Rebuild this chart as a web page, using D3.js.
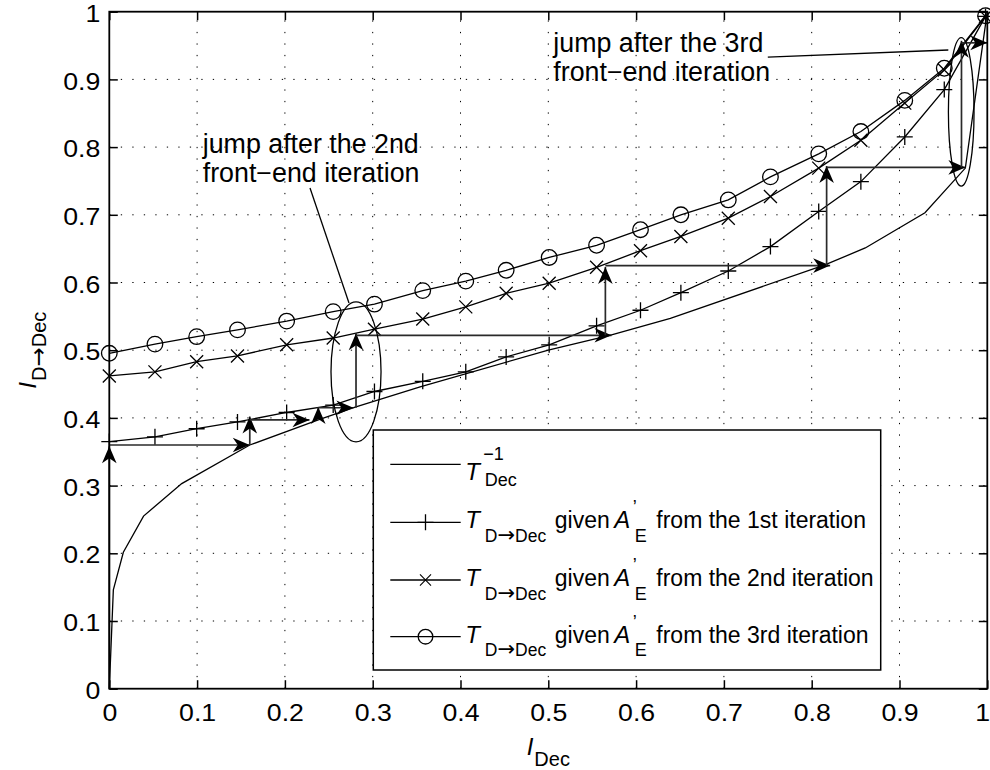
<!DOCTYPE html>
<html><head><meta charset="utf-8">
<script src="https://cdn.jsdelivr.net/npm/d3@7"></script>
<style>
body{margin:0;background:#fff;}
svg{display:block;background:#fff;}
text{font-family:"Liberation Sans",Arial,Helvetica,sans-serif;fill:#000;}
</style></head><body>
<svg id="chart" width="990" height="770"></svg>
<script>
// ---------- data ----------
const xTicks = [0,0.1,0.2,0.3,0.4,0.5,0.6,0.7,0.8,0.9,1];
const xTickLabels = ["0","0.1","0.2","0.3","0.4","0.5","0.6","0.7","0.8","0.9","1"];
const yTicks = [0,0.1,0.2,0.3,0.4,0.5,0.6,0.7,0.8,0.9,1];
const yTickLabels = ["0","0.1","0.2","0.3","0.4","0.5","0.6","0.7","0.8","0.9","1"];

// T_Dec^-1 curve
const invX = [0,0.0046,0.016,0.039,0.0825,0.16,0.238,0.28,0.354,0.5,0.57,0.639,0.815,0.861,0.929,0.975,1.0];
const invY = [0,0.146,0.2015,0.255,0.303,0.36,0.397,0.416,0.446,0.5,0.522,0.547,0.626,0.651,0.703,0.769,1.0];

// T_D->Dec curves (shared abscissae)
const iterX = [0,0.052,0.0995,0.146,0.202,0.255,0.302,0.357,0.406,0.452,0.501,0.555,0.605,0.651,0.705,0.753,0.808,0.856,0.906,0.951,0.998];
const iter1 = [0.365,0.372,0.384,0.394,0.408,0.419,0.439,0.454,0.468,0.490,0.508,0.536,0.559,0.585,0.617,0.653,0.705,0.749,0.815,0.885,0.993];
const iter2 = [0.462,0.468,0.483,0.4915,0.508,0.518,0.531,0.546,0.564,0.584,0.599,0.6225,0.647,0.668,0.695,0.727,0.769,0.810,0.865,0.914,0.993];
const iter3 = [0.4954,0.509,0.520,0.530,0.543,0.557,0.568,0.588,0.602,0.618,0.637,0.655,0.678,0.700,0.722,0.756,0.790,0.823,0.869,0.9165,0.994];

// staircase trajectory (arrows)
const stairFrom = [[0,0],[0,0.36],[0.16,0.36],[0.16,0.397],[0.238,0.397],[0.238,0.415],[0.281,0.415],[0.281,0.522],[0.565,0.522],[0.565,0.625],[0.817,0.625],[0.817,0.77],[0.9706,0.77],[0.9706,0.954]];
const stairTo   = [[0,0.358],[0.16,0.36],[0.16,0.402],[0.228,0.397],[0.238,0.416],[0.278,0.415],[0.281,0.525],[0.572,0.522],[0.565,0.623],[0.821,0.625],[0.817,0.772],[0.975,0.77],[0.9706,0.957],[1.0,0.954]];

// annotations
const annCenter = [[0.281,0.468],[0.9703,0.852]];
const annRadius = [[0.0285,0.1034],[0.0146,0.1096]];
const annLeaderFrom = [[0.2286,0.7396],[0.750,0.933]];
const annLeaderTo = [[0.273,0.5697],[0.9556,0.9434]];
const annTextPos = [[0.1064,0.791],[0.5057,0.94]];
const annLines = [["jump after the 2nd","front\u2212end iteration"],["jump after the 3rd","front\u2212end iteration"]];

const legendOrdinals = ["1st","2nd","3rd"];

// ---------- drawing ----------
const svg = d3.select("#chart");
const x = d3.scaleLinear().domain([0,1]).range([109.3,987.3]);
const y = d3.scaleLinear().domain([0,1]).range([688.7,11.7]);
const FONT = '"Liberation Sans",Arial,Helvetica,sans-serif';
const ARROWFONT = '"DejaVu Sans",sans-serif';

// grid
const grid = svg.append("g").attr("stroke","#000").attr("stroke-width",1).attr("stroke-dasharray","1.3,10.2");
xTicks.filter(t=>t>0&&t<1).forEach(t=>{
  grid.append("line").attr("x1",x(t)).attr("x2",x(t)).attr("y1",y(0)).attr("y2",y(1));
});
yTicks.filter(t=>t>0&&t<1).forEach(t=>{
  grid.append("line").attr("y1",y(t)).attr("y2",y(t)).attr("x1",x(0)).attr("x2",x(1));
});

// curves
const line = d3.line().x(d=>x(d[0])).y(d=>y(d[1]));
const curveG = svg.append("g").attr("fill","none").attr("stroke","#000").attr("stroke-width",1.3);
curveG.append("path").attr("d",line(invX.map((v,i)=>[v,invY[i]])));
[iter1,iter2,iter3].forEach(s=>{
  curveG.append("path").attr("d",line(iterX.map((v,i)=>[v,s[i]])));
});

// markers
const plusPath = "M-8,0H8M0,-8V8";
const crossPath = "M-6.5,-6.5L6.5,6.5M-6.5,6.5L6.5,-6.5";
const markG = svg.append("g").attr("fill","none").attr("stroke","#000").attr("stroke-width",1.3);
iterX.forEach((v,i)=>{
  markG.append("path").attr("d",plusPath).attr("transform",`translate(${x(v)},${y(iter1[i])})`);
  markG.append("path").attr("d",crossPath).attr("transform",`translate(${x(v)},${y(iter2[i])})`);
  markG.append("circle").attr("cx",x(v)).attr("cy",y(iter3[i])).attr("r",7.8);
});

// staircase arrows
const arrG = svg.append("g");
const headPath = "M0,0L-17,-7.3L-12,0L-17,7.3Z";
stairFrom.forEach((p,i)=>{
  const q = stairTo[i];
  const x1=x(p[0]),y1=y(p[1]),x2=x(q[0]),y2=y(q[1]);
  arrG.append("line").attr("x1",x1).attr("y1",y1).attr("x2",x2).attr("y2",y2)
    .attr("stroke","#2a2a2a").attr("stroke-width",1.7);
  const ang = Math.atan2(y2-y1,x2-x1)*180/Math.PI;
  arrG.append("path").attr("d",headPath).attr("fill","#000")
    .attr("transform",`translate(${x2},${y2}) rotate(${ang})`);
});

// annotations
const annG = svg.append("g");
annCenter.forEach((c,i)=>{
  annG.append("ellipse").attr("cx",x(c[0])).attr("cy",y(c[1]))
    .attr("rx",x(annRadius[i][0])-x(0)).attr("ry",y(0)-y(annRadius[i][1]))
    .attr("fill","none").attr("stroke","#000").attr("stroke-width",1.3);
  annG.append("line").attr("x1",x(annLeaderFrom[i][0])).attr("y1",y(annLeaderFrom[i][1]))
    .attr("x2",x(annLeaderTo[i][0])).attr("y2",y(annLeaderTo[i][1]))
    .attr("stroke","#000").attr("stroke-width",1.3);
  annLines[i].forEach((t,j)=>{
    annG.append("text").attr("x",x(annTextPos[i][0])).attr("y",y(annTextPos[i][1])+j*28.7)
      .attr("font-size",26.8).text(t);
  });
});

// box
svg.append("rect").attr("x",x(0)).attr("y",y(1)).attr("width",x(1)-x(0)).attr("height",y(0)-y(1))
  .attr("fill","none").attr("stroke","#000").attr("stroke-width",1.8);

// axes
const SX = 1.16;
const gB = svg.append("g").attr("transform",`translate(0,${y(0)})`)
  .call(d3.axisBottom(x).tickValues(xTicks).tickFormat((d,i)=>xTickLabels[i]).tickSize(-8.5).tickPadding(15.5));
const gL = svg.append("g").attr("transform",`translate(${x(0)},0)`)
  .call(d3.axisLeft(y).tickValues(yTicks).tickFormat((d,i)=>yTickLabels[i]).tickSize(-8.5).tickPadding(9));
const gT = svg.append("g").attr("transform",`translate(0,${y(1)})`)
  .call(d3.axisTop(x).tickValues(xTicks).tickFormat("").tickSize(-8.5));
const gR = svg.append("g").attr("transform",`translate(${x(1)},0)`)
  .call(d3.axisRight(y).tickValues(yTicks).tickFormat("").tickSize(-8.5));
[gB,gL,gT,gR].forEach(g=>{
  g.select(".domain").remove();
  g.selectAll(".tick line").attr("stroke","#000").attr("stroke-width",1.5);
  g.selectAll(".tick text").attr("font-family",FONT).attr("font-size",23).attr("fill","#000");
});
gB.selectAll(".tick text").attr("transform",`scale(${SX},1)`)
  .attr("x",(d,i)=> i===xTicks.length-1 ? -4.5 : 0);
gL.selectAll(".tick text").attr("x",-9/SX).attr("dy","0.42em").attr("transform",`scale(${SX},1)`);

// helper: subscript "D→Dec" with a wider arrow glyph
function addDtoDec(t, size, arrowSize){
  t.append("tspan").attr("font-size",size).text("D");
  t.append("tspan").attr("font-size",arrowSize).attr("font-family",ARROWFONT).text("\u2192");
  t.append("tspan").attr("font-size",size).text("Dec");
}

// axis labels
const xl = svg.append("text").attr("x",(x(0)+x(1))/2).attr("y",755).attr("text-anchor","middle");
xl.append("tspan").attr("font-style","italic").attr("font-size",24).text("I");
xl.append("tspan").attr("font-size",20).attr("dy",11).attr("dx",1).text("Dec");

const yl = svg.append("text").attr("transform",`translate(36,${(y(0)+y(1))/2}) rotate(-90)`).attr("text-anchor","middle");
yl.append("tspan").attr("font-style","italic").attr("font-size",24).text("I");
yl.append("tspan").attr("font-size",20).attr("dy",10).attr("dx",1).text("D");
yl.append("tspan").attr("font-size",23).attr("font-family",ARROWFONT).text("\u2192");
yl.append("tspan").attr("font-size",20).text("Dec");

// legend
const LX = 373.3, LY = 430, LW = 507.4, LH = 240;
const lg = svg.append("g").attr("transform",`translate(${LX},${LY})`);
lg.append("rect").attr("width",LW).attr("height",LH).attr("fill","#fff").attr("stroke","#000").attr("stroke-width",1.5);
const rowY = [34.3,92.3,150,206.7];
const sampleX1 = 17, sampleX2 = 87.4, sampleMid = 52.2;
rowY.forEach((ry,k)=>{
  lg.append("line").attr("x1",sampleX1).attr("x2",sampleX2).attr("y1",ry).attr("y2",ry).attr("stroke","#000").attr("stroke-width",1.3);
});
lg.append("path").attr("d",plusPath).attr("transform",`translate(${sampleMid},${rowY[1]})`).attr("fill","none").attr("stroke","#000").attr("stroke-width",1.3);
lg.append("path").attr("d",crossPath).attr("transform",`translate(${sampleMid},${rowY[2]}) scale(0.85)`).attr("fill","none").attr("stroke","#000").attr("stroke-width",1.3);
lg.append("circle").attr("cx",sampleMid).attr("cy",rowY[3]).attr("r",7.3).attr("fill","none").attr("stroke","#000").attr("stroke-width",1.3);

// row 1 : T_Dec^-1
lg.append("text").attr("x",92).attr("y",rowY[0]+16).attr("font-size",24).attr("font-style","italic").text("T");
lg.append("text").attr("x",110).attr("y",rowY[0]-4).attr("font-size",18).text("\u22121");
lg.append("text").attr("x",111.5).attr("y",rowY[0]+22).attr("font-size",18).text("Dec");
// rows 2-4
legendOrdinals.forEach((o,k)=>{
  const ry = rowY[k+1];
  lg.append("text").attr("x",92).attr("y",ry+6).attr("font-size",24).attr("font-style","italic").text("T");
  addDtoDec(lg.append("text").attr("x",111.5).attr("y",ry+19.5), 17.5, 21);
  lg.append("text").attr("x",181.5).attr("y",ry+6).attr("font-size",23).text("given");
  lg.append("text").attr("x",241).attr("y",ry+6).attr("font-size",24).attr("font-style","italic").text("A");
  lg.append("text").attr("x",259.5).attr("y",ry-9).attr("font-size",18).text("\u2019");
  lg.append("text").attr("x",261.5).attr("y",ry+19.5).attr("font-size",18).text("E");
  lg.append("text").attr("x",283).attr("y",ry+6).attr("font-size",23).text(`from the ${o} iteration`);
});
</script>
</body></html>
